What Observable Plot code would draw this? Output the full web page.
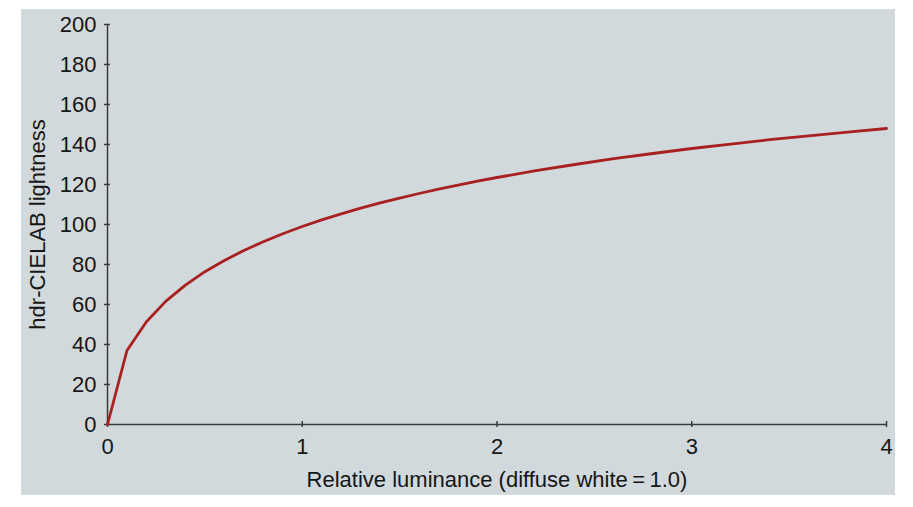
<!DOCTYPE html>
<html>
<head>
<meta charset="utf-8">
<script src="https://cdn.jsdelivr.net/npm/d3@7"></script>
<script src="https://cdn.jsdelivr.net/npm/@observablehq/plot@0.6"></script>
<style>
  html, body { margin: 0; padding: 0; background: #ffffff; }
  #wrap { position: relative; width: 913px; height: 507px; overflow: hidden; }
  #panel { position: absolute; left: 21px; top: 9px; width: 874px; height: 486px; background: #d1d9dc; }
  #chart { position: absolute; left: 0; top: 0; }
  #chart svg { background: transparent; }
</style>
</head>
<body>
<div id="wrap"><div id="panel"></div><div id="chart"></div></div>
<script>
// Relative luminance (diffuse white = 1.0)
const luminance = [0, 0.1, 0.2, 0.3, 0.4, 0.5, 0.6, 0.7, 0.8, 0.9, 1.0,
  1.1, 1.2, 1.3, 1.4, 1.5, 1.6, 1.7, 1.8, 1.9, 2.0,
  2.2, 2.4, 2.6, 2.8, 3.0, 3.2, 3.4, 3.6, 3.8, 4.0];
// hdr-CIELAB lightness
const lightness = [0, 37.0, 51.4, 61.7, 69.7, 76.4, 82.0, 87.0, 91.4, 95.4, 99.0,
  102.3, 105.3, 108.2, 110.8, 113.2, 115.5, 117.7, 119.7, 121.7, 123.5,
  126.9, 130.0, 132.9, 135.5, 138.0, 140.2, 142.4, 144.3, 146.2, 148.0];
const xTicks = [0, 1, 2, 3, 4];
const yTicks = [0, 20, 40, 60, 80, 100, 120, 140, 160, 180, 200];

const data = luminance.map((x, i) => ({x, y: lightness[i]}));
const axisColor = "#3a3a3a";

const chart = Plot.plot({
  width: 913,
  height: 507,
  marginLeft: 107,
  marginRight: 27,
  marginTop: 24,
  marginBottom: 83,
  style: {fontFamily: "'Liberation Sans', Arial, sans-serif", fontSize: "22px", color: "#161616", background: "transparent"},
  x: {domain: [0, 4]},
  y: {domain: [0, 200]},
  marks: [
    Plot.axisX(xTicks, {tickSize: 0, tickPadding: 14, fontSize: 22, label: "Relative luminance (diffuse white\u2009=\u20091.0)", labelAnchor: "center", labelArrow: "none", labelOffset: 62, tickFormat: d => String(d)}),
    Plot.axisY(yTicks, {tickSize: 0, tickPadding: 11, fontSize: 22, label: "hdr-CIELAB lightness", labelAnchor: "center", labelArrow: "none", labelOffset: 78, tickFormat: d => String(d)}),
    Plot.ruleY([0], {x1: () => 0, x2: () => 4, stroke: axisColor, strokeWidth: 1.5}),
    Plot.ruleX([0], {y1: () => 0, y2: () => 200, stroke: axisColor, strokeWidth: 1.5}),
    Plot.ruleX(xTicks, {x: d => d, y1: () => -1.5, y2: () => 1.5, stroke: axisColor, strokeWidth: 1.5}),
    Plot.ruleY(yTicks, {y: d => d, x1: () => -0.0155, x2: () => 0.0155, stroke: axisColor, strokeWidth: 1.5}),
    Plot.line(data, {x: "x", y: "y", stroke: "#a8201f", strokeWidth: 2.8, curve: "linear"})
  ]
});
document.getElementById("chart").appendChild(chart);
</script>
</body>
</html>
